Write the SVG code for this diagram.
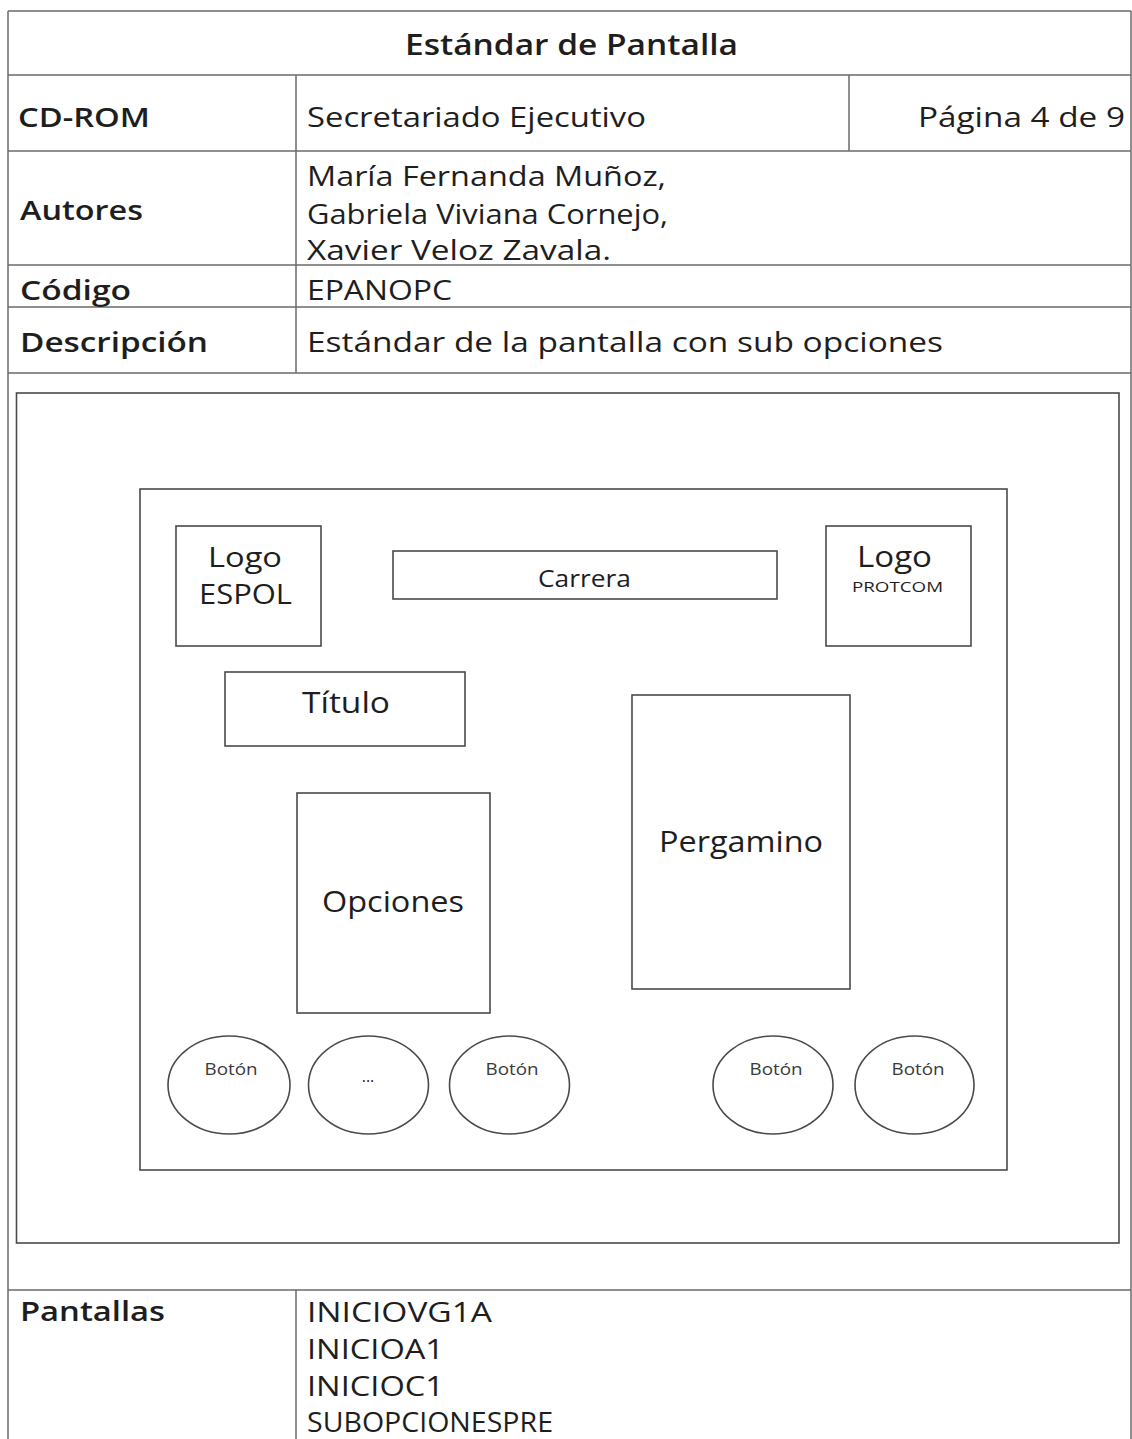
<svg xmlns="http://www.w3.org/2000/svg" width="1132" height="1439" viewBox="0 0 1132 1439">
<style>
  .ln { stroke: #6a6a6a; stroke-width: 1.5; fill: none; }
  .bx { stroke: #4a4a4a; stroke-width: 1.6; fill: #ffffff; }
  .t { font-family: "Open Sans", "Noto Sans", "DejaVu Sans", sans-serif; fill: #1e1e1e; }
  .b { font-weight: 600; }
  .sb { font-weight: 600; }
  .body { font-size: 27.5px; }
  .btn { font-size: 16.5px; fill: #3a3a3a; }
</style>
<rect width="1132" height="1439" fill="#ffffff"/>

<g id="table">
  <line class="ln" x1="8" y1="11" x2="1131" y2="11"/>
  <line class="ln" x1="8" y1="75" x2="1131" y2="75"/>
  <line class="ln" x1="8" y1="151" x2="1131" y2="151"/>
  <line class="ln" x1="8" y1="265" x2="1131" y2="265"/>
  <line class="ln" x1="8" y1="307" x2="1131" y2="307"/>
  <line class="ln" x1="8" y1="373" x2="1131" y2="373"/>
  <line class="ln" x1="8" y1="1290" x2="1131" y2="1290"/>
  <line class="ln" x1="8" y1="11" x2="8" y2="1439"/>
  <line class="ln" x1="1131" y1="11" x2="1131" y2="1439"/>
  <line class="ln" x1="296" y1="75" x2="296" y2="373"/>
  <line class="ln" x1="296" y1="1290" x2="296" y2="1439"/>
  <line class="ln" x1="849" y1="75" x2="849" y2="151"/>
</g>

<g id="table-text">
  <text class="t sb" x="405" y="55" font-size="29" textLength="333" lengthAdjust="spacingAndGlyphs">Estándar de Pantalla</text>
  <text class="t b body" x="18" y="127" textLength="132" lengthAdjust="spacingAndGlyphs">CD-ROM</text>
  <text class="t body" x="307" y="127" textLength="339" lengthAdjust="spacingAndGlyphs">Secretariado Ejecutivo</text>
  <text class="t body" x="918" y="127" textLength="207" lengthAdjust="spacingAndGlyphs">Página 4 de 9</text>
  <text class="t b body" x="20" y="220" textLength="123" lengthAdjust="spacingAndGlyphs">Autores</text>
  <text class="t body" x="307" y="186" textLength="359" lengthAdjust="spacingAndGlyphs">María Fernanda Muñoz,</text>
  <text class="t body" x="307" y="224" textLength="361" lengthAdjust="spacingAndGlyphs">Gabriela Viviana Cornejo,</text>
  <text class="t body" x="307" y="260" textLength="304" lengthAdjust="spacingAndGlyphs">Xavier Veloz Zavala.</text>
  <text class="t b body" x="20" y="300" textLength="111" lengthAdjust="spacingAndGlyphs">Código</text>
  <text class="t body" x="307" y="300" textLength="145" lengthAdjust="spacingAndGlyphs">EPANOPC</text>
  <text class="t b body" x="20" y="352" textLength="188" lengthAdjust="spacingAndGlyphs">Descripción</text>
  <text class="t body" x="307" y="352" textLength="636" lengthAdjust="spacingAndGlyphs">Estándar de la pantalla con sub opciones</text>
  <text class="t b body" x="20" y="1321" textLength="145" lengthAdjust="spacingAndGlyphs">Pantallas</text>
  <text class="t body" x="307" y="1322" textLength="185" lengthAdjust="spacingAndGlyphs">INICIOVG1A</text>
  <text class="t body" x="307" y="1359" textLength="137" lengthAdjust="spacingAndGlyphs">INICIOA1</text>
  <text class="t body" x="307" y="1396" textLength="137" lengthAdjust="spacingAndGlyphs">INICIOC1</text>
  <text class="t body" x="307" y="1432" textLength="246" lengthAdjust="spacingAndGlyphs">SUBOPCIONESPRE</text>
</g>

<g id="frame">
  <rect class="bx" x="16.5" y="393" width="1102.5" height="850"/>
</g>

<g id="screen">
  <rect class="bx" x="140" y="489" width="867" height="681"/>
</g>

<g id="logo-espol">
  <rect class="bx" x="176" y="526" width="145" height="120"/>
  <text class="t" x="245" y="567" font-size="28" text-anchor="middle" textLength="74" lengthAdjust="spacingAndGlyphs">Logo</text>
  <text class="t" x="245.5" y="604" font-size="28" text-anchor="middle" textLength="93" lengthAdjust="spacingAndGlyphs">ESPOL</text>
</g>

<g id="carrera">
  <rect class="bx" x="393" y="551" width="384" height="48"/>
  <text class="t" x="584.5" y="587" font-size="24" text-anchor="middle" textLength="93" lengthAdjust="spacingAndGlyphs">Carrera</text>
</g>

<g id="logo-protcom">
  <rect class="bx" x="826" y="526" width="145" height="120"/>
  <text class="t" x="894.5" y="567" font-size="29" text-anchor="middle" textLength="75" lengthAdjust="spacingAndGlyphs">Logo</text>
  <text class="t" x="897.5" y="592" font-size="15" text-anchor="middle" textLength="91" lengthAdjust="spacingAndGlyphs" fill="#333">PROTCOM</text>
</g>

<g id="titulo">
  <rect class="bx" x="225" y="672" width="240" height="74"/>
  <text class="t" x="346" y="713" font-size="30" text-anchor="middle" textLength="88" lengthAdjust="spacingAndGlyphs">Título</text>
</g>

<g id="opciones">
  <rect class="bx" x="297" y="793" width="193" height="220"/>
  <text class="t" x="393" y="912" font-size="30" text-anchor="middle" textLength="142" lengthAdjust="spacingAndGlyphs">Opciones</text>
</g>

<g id="pergamino">
  <rect class="bx" x="632" y="695" width="218" height="294"/>
  <text class="t" x="741" y="852" font-size="30" text-anchor="middle" textLength="164" lengthAdjust="spacingAndGlyphs">Pergamino</text>
</g>

<g id="boton-1">
  <ellipse class="bx" cx="229" cy="1085" rx="61" ry="49"/>
  <text class="t btn" x="231" y="1075" text-anchor="middle" textLength="53" lengthAdjust="spacingAndGlyphs">Botón</text>
</g>
<g id="boton-2">
  <ellipse class="bx" cx="368.5" cy="1085" rx="60" ry="49"/>
  <text class="t" x="368" y="1082" font-size="16" fill="#9a9a9a" text-anchor="middle">...</text>
</g>
<g id="boton-3">
  <ellipse class="bx" cx="509.5" cy="1085" rx="60" ry="49"/>
  <text class="t btn" x="512" y="1075" text-anchor="middle" textLength="53" lengthAdjust="spacingAndGlyphs">Botón</text>
</g>
<g id="boton-4">
  <ellipse class="bx" cx="773" cy="1085" rx="60" ry="49"/>
  <text class="t btn" x="776" y="1075" text-anchor="middle" textLength="53" lengthAdjust="spacingAndGlyphs">Botón</text>
</g>
<g id="boton-5">
  <ellipse class="bx" cx="914.5" cy="1085" rx="59.5" ry="49"/>
  <text class="t btn" x="918" y="1075" text-anchor="middle" textLength="53" lengthAdjust="spacingAndGlyphs">Botón</text>
</g>

<g id="connectors"/>
</svg>
